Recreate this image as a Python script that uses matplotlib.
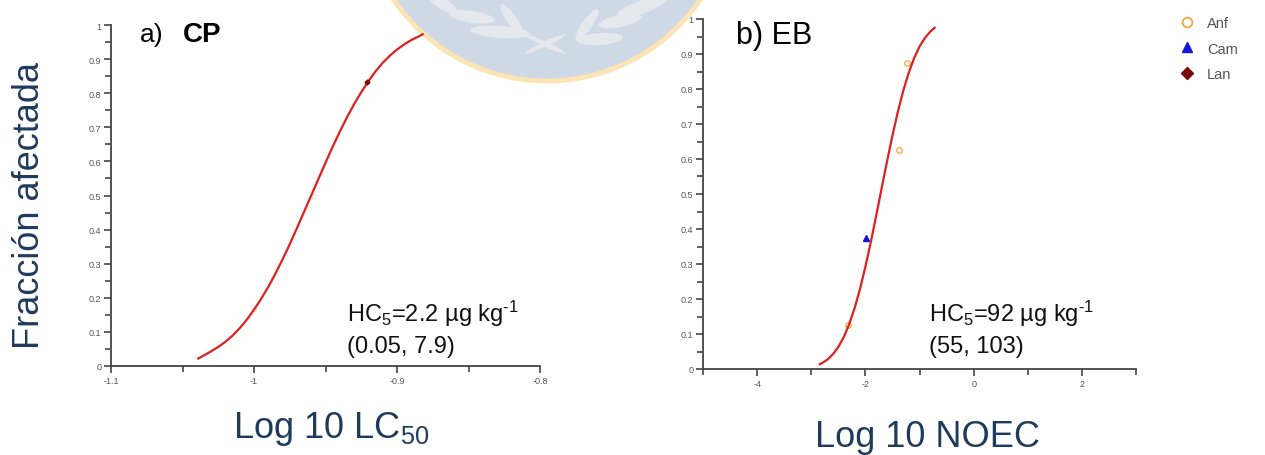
import matplotlib
matplotlib.use("Agg")
import matplotlib.pyplot as plt
from matplotlib.ticker import MultipleLocator, FormatStrFormatter
from matplotlib.patches import Ellipse
from matplotlib.lines import Line2D

plt.rcParams['font.family'] = ['Liberation Sans', 'DejaVu Sans']
plt.rcParams['mathtext.fontset'] = 'custom'
plt.rcParams['mathtext.rm'] = 'Liberation Sans'
plt.rcParams['mathtext.it'] = 'Liberation Sans:italic'
plt.rcParams['mathtext.bf'] = 'Liberation Sans:bold'
plt.rcParams['axes.unicode_minus'] = False

# ---------------- data ----------------
# panel a) CP : fitted curve (read off the picture)
cp_curve_x = [-1.039, -1.035, -1.030, -1.025, -1.020, -1.015, -1.010, -1.005, -1.000,
              -0.995, -0.990, -0.985, -0.980, -0.975, -0.970, -0.965, -0.960, -0.955,
              -0.950, -0.945, -0.940, -0.935, -0.930, -0.925, -0.920, -0.915, -0.910,
              -0.905, -0.900, -0.895, -0.890, -0.885, -0.882]
cp_curve_y = [0.022, 0.031, 0.043, 0.056, 0.071, 0.089, 0.111, 0.136, 0.165,
              0.197, 0.232, 0.271, 0.313, 0.357, 0.404, 0.452, 0.500, 0.548,
              0.596, 0.643, 0.687, 0.729, 0.768, 0.803, 0.835, 0.864, 0.889,
              0.910, 0.928, 0.943, 0.956, 0.966, 0.973]
cp_anf_x = [-1.000, -0.958]
cp_anf_y = [0.167, 0.500]
cp_lan_x = [-0.921]
cp_lan_y = [0.833]

# panel b) EB : fitted curve (read off the picture)
eb_curve_x = [-2.84, -2.80, -2.70, -2.60, -2.50, -2.40, -2.30, -2.20, -2.10, -2.00,
              -1.90, -1.80, -1.70, -1.60, -1.50, -1.40, -1.30, -1.20, -1.10, -1.00,
              -0.90, -0.80, -0.72]
eb_curve_y = [0.014, 0.017, 0.027, 0.042, 0.063, 0.091, 0.128, 0.173, 0.228, 0.292,
              0.362, 0.438, 0.516, 0.593, 0.667, 0.735, 0.795, 0.846, 0.888, 0.921,
              0.946, 0.964, 0.975]
eb_anf_x = [-2.317, -1.377, -1.229]
eb_anf_y = [0.125, 0.625, 0.875]
eb_cam_x = [-1.991]
eb_cam_y = [0.375]

legend_labels = ["Anf", "Cam", "Lan"]

# ---------------- styles ----------------
W, H = 1265, 456
RED = "#e01f1f"
ANF_C = "#f0a83a"
CAM_C = "#1414d8"
LAN_C = "#7a0a0a"
AX_C = "#444444"
TICK_TXT = "#555555"
NAVY = "#1f3b5c"

fig = plt.figure(figsize=(W / 100, H / 100), dpi=100)
fig.patch.set_facecolor("white")


def fx(px):
    return px / W


def fy(py):
    return 1 - py / H


def pin(px, py):
    # pixel position (from top-left) -> inches for dpi_scale_trans
    return (px / 100, (H - py) / 100)


# watermark (university seal) behind the plots
seal = Ellipse(pin(547, -103), 3.70, 3.70, transform=fig.dpi_scale_trans,
               facecolor="#cfd9e6", edgecolor="#fde4b4", linewidth=3.5, zorder=-5)
fig.patches.append(seal)
leaves = [((443, 5), 32, 11, -30), ((472, 18), 46, 12, -8), ((500, 33), 60, 12, -4),
          ((512, 21), 38, 10, -55),
          ((587, 26), 38, 10, 55), ((600, 40), 46, 12, 4), ((620, 22), 44, 12, 12),
          ((642, 8), 54, 13, 20),
          ((545, 45), 46, 5, 25), ((545, 45), 46, 5, -25)]
for (cx, cy), w, h, ang in leaves:
    e = Ellipse(pin(cx, cy), w / 100, h / 100, angle=ang, transform=fig.dpi_scale_trans,
                facecolor="#e5e8ed", edgecolor="none", zorder=-4)
    fig.patches.append(e)


def style_axes(ax):
    ax.set_facecolor("none")
    for s in ("top", "right"):
        ax.spines[s].set_visible(False)
    for s in ("left", "bottom"):
        ax.spines[s].set_color(AX_C)
        ax.spines[s].set_linewidth(1.3)
    ax.tick_params(axis="both", which="major", direction="out", length=5, width=1.2,
                   color=AX_C, labelsize=6.5, labelcolor=TICK_TXT, pad=2)
    ax.tick_params(axis="both", which="minor", direction="out", length=4, width=1.2,
                   color=AX_C)
    ax.yaxis.set_major_locator(MultipleLocator(0.1))
    ax.yaxis.set_minor_locator(MultipleLocator(0.05))
    ax.yaxis.set_major_formatter(FormatStrFormatter("%g"))
    ax.set_ylim(0, 1)


# ---------------- panel a ----------------
axa = fig.add_axes([fx(111), fy(367), (540 - 111) / W, (367 - 26) / H])
style_axes(axa)
axa.set_xlim(-1.1, -0.8)
axa.xaxis.set_major_locator(MultipleLocator(0.1))
axa.xaxis.set_minor_locator(MultipleLocator(0.05))
axa.xaxis.set_major_formatter(FormatStrFormatter("%g"))
axa.plot(cp_anf_x, cp_anf_y, linestyle="none", marker="o", markersize=3,
         markerfacecolor="none", markeredgecolor=ANF_C, markeredgewidth=0.6,
         alpha=0.35, zorder=2)
axa.plot(cp_curve_x, cp_curve_y, color=RED, linewidth=1.6, zorder=3, clip_on=False)
axa.plot(cp_lan_x, cp_lan_y, linestyle="none", marker="D", markersize=2.5,
         color=LAN_C, zorder=4)

# ---------------- panel b ----------------
axb = fig.add_axes([fx(703), fy(370), (1136 - 703) / W, (370 - 20) / H])
style_axes(axb)
axb.set_xlim(-5, 3)
axb.xaxis.set_major_locator(MultipleLocator(2))
axb.xaxis.set_minor_locator(MultipleLocator(1))
axb.xaxis.set_major_formatter(FormatStrFormatter("%g"))
axb.plot(eb_curve_x, eb_curve_y, color=RED, linewidth=1.6, zorder=3, clip_on=False)
axb.plot(eb_anf_x, eb_anf_y, linestyle="none", marker="o", markersize=4,
         markerfacecolor="none", markeredgecolor=ANF_C, markeredgewidth=0.9, zorder=2)
axb.plot(eb_cam_x, eb_cam_y, linestyle="none", marker="^", markersize=4,
         color=CAM_C, zorder=4)

# ---------------- texts ----------------
fig.text(fx(140), fy(42), "a)", fontsize=19, va="baseline", ha="left", color="black")
fig.text(fx(183), fy(42), "CP", fontsize=20, fontweight="bold", va="baseline",
         ha="left", color="black")
fig.text(fx(736), fy(44), "b) EB", fontsize=22, va="baseline", ha="left", color="black")

fig.text(fx(347), fy(322), "HC$_{\\mathrm{5}}$=2.2 µg kg$^{\\mathrm{\u20101}}$",
         fontsize=17, va="baseline", ha="left", color="#111111")
fig.text(fx(347), fy(353), "(0.05, 7.9)", fontsize=17, va="baseline", ha="left",
         color="#111111")
fig.text(fx(929), fy(322), "HC$_{\\mathrm{5}}$=92 µg kg$^{\\mathrm{\u20101}}$",
         fontsize=17, va="baseline", ha="left", color="#111111")
fig.text(fx(929), fy(353), "(55, 103)", fontsize=17, va="baseline", ha="left",
         color="#111111")

fig.text(fx(30), fy(206), "Fracción afectada", rotation=90, fontsize=26,
         va="center", ha="center", color=NAVY)
fig.text(fx(233), fy(438), r"Log 10 LC$_{\mathrm{50}}$", fontsize=26, va="baseline",
         ha="left", color=NAVY)
fig.text(fx(815), fy(447), "Log 10 NOEC", fontsize=26, va="baseline", ha="left",
         color=NAVY)

# ---------------- legend ----------------
handles = [
    Line2D([], [], linestyle="none", marker="o", markersize=7, markerfacecolor="none",
           markeredgecolor=ANF_C, markeredgewidth=1.3),
    Line2D([], [], linestyle="none", marker="^", markersize=7, color=CAM_C),
    Line2D([], [], linestyle="none", marker="D", markersize=6, color=LAN_C),
]
leg = fig.legend(handles, legend_labels, loc="upper left",
                 bbox_to_anchor=(fx(1172), fy(11)), frameon=False, fontsize=10.5,
                 handlelength=1.2, handletextpad=0.8, labelspacing=0.8,
                 borderaxespad=0)
for t in leg.get_texts():
    t.set_color(TICK_TXT)

fig.savefig("out.png", dpi=100, facecolor="white")
